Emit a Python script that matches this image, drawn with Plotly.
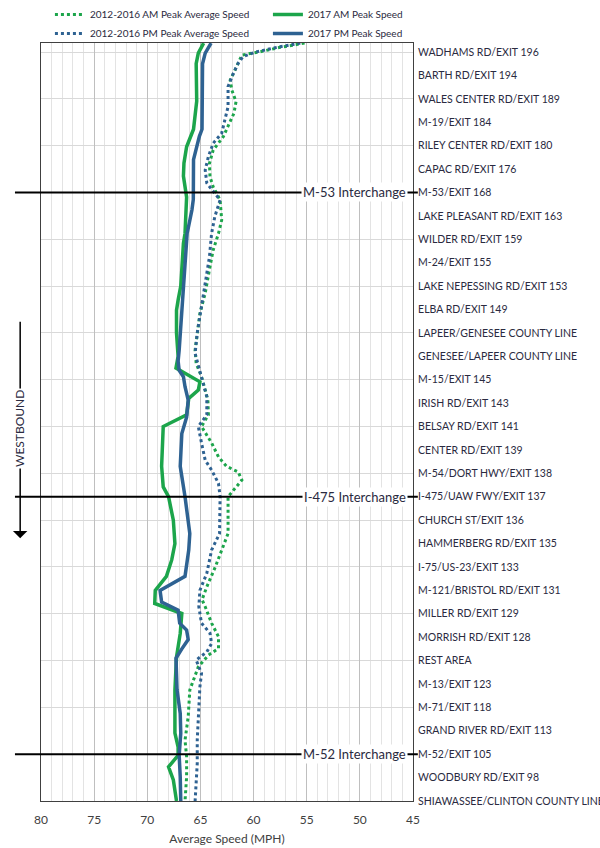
import plotly.graph_objects as go

# ---------------- DATA ----------------
exit_labels = [
    "WADHAMS RD/EXIT 196", "BARTH RD/EXIT 194", "WALES CENTER RD/EXIT 189",
    "M-19/EXIT 184", "RILEY CENTER RD/EXIT 180", "CAPAC RD/EXIT 176",
    "M-53/EXIT 168", "LAKE PLEASANT RD/EXIT 163", "WILDER RD/EXIT 159",
    "M-24/EXIT 155", "LAKE NEPESSING RD/EXIT 153", "ELBA RD/EXIT 149",
    "LAPEER/GENESEE COUNTY LINE", "GENESEE/LAPEER COUNTY LINE", "M-15/EXIT 145",
    "IRISH RD/EXIT 143", "BELSAY RD/EXIT 141", "CENTER RD/EXIT 139",
    "M-54/DORT HWY/EXIT 138", "I-475/UAW FWY/EXIT 137", "CHURCH ST/EXIT 136",
    "HAMMERBERG RD/EXIT 135", "I-75/US-23/EXIT 133", "M-121/BRISTOL RD/EXIT 131",
    "MILLER RD/EXIT 129", "MORRISH RD/EXIT 128", "REST AREA", "M-13/EXIT 123",
    "M-71/EXIT 118", "GRAND RIVER RD/EXIT 113", "M-52/EXIT 105",
    "WOODBURY RD/EXIT 98", "SHIAWASSEE/CLINTON COUNTY LINE",
]

interchange_names = ["M-53 Interchange", "I-475 Interchange", "M-52 Interchange"]
interchange_exits = ["M-53/EXIT 168", "I-475/UAW FWY/EXIT 137", "M-52/EXIT 105"]

x_ticks = [80, 75, 70, 65, 60, 55, 50, 45]

# 2012-2016 AM Peak Average Speed (position along corridor in exit-row units, speed mph)
am_avg_pos = [-0.38, -0.2, 0.0, 0.13, 0.63, 1.2, 1.62, 2.12, 2.62, 3.19, 3.62, 4.19,
              4.76, 5.33, 5.76, 6.32, 7.18, 7.75, 8.46, 9.17, 10.3, 11.17, 12.0,
              12.74, 13.3, 13.87, 14.44, 14.87, 15.5, 16.0, 16.7, 17.3, 17.7,
              17.94, 18.29, 18.64, 19.0, 20.57, 21.28, 22.0, 22.85, 23.4, 23.7,
              24.4, 24.98, 25.48, 25.77, 26.27, 27.26, 28.4, 29.4, 30.1, 30.97, 32.0]
am_avg_val = [55.2, 57.5, 59.5, 61.1, 61.6, 62.2, 62.05, 61.65, 61.85, 62.4, 62.85, 63.8,
              64.15, 64.1, 63.8, 63.15, 63.0, 63.3, 63.8, 64.1, 64.55, 65.05, 65.3,
              65.5, 65.4, 64.9, 64.55, 64.3, 64.25, 64.9, 63.95, 63.3, 62.55,
              61.45, 61.1, 61.75, 62.4, 62.4, 63.0, 63.6, 64.4, 64.85, 64.55,
              63.95, 63.3, 63.3, 64.25, 65.2, 66.0, 66.15, 66.45, 66.3, 66.3, 66.45]

# 2012-2016 PM Peak Average Speed
pm_avg_pos = [-0.38, -0.2, 0.0, 0.2, 0.48, 0.91, 1.48, 2.34, 2.9, 3.47, 3.9, 4.47,
              5.04, 5.6, 6.04, 6.32, 7.04, 7.75, 8.75, 9.88, 10.88, 12.0, 12.88,
              13.6, 14.15, 14.73, 15.5, 16.0, 16.7, 17.44, 17.86, 18.43, 19.0,
              20.57, 21.28, 22.27, 23.0, 23.7, 24.4, 24.83, 25.27, 25.63, 25.98,
              26.55, 27.12, 27.98, 29.4, 30.4, 32.0]
pm_avg_val = [55.6, 57.8, 59.8, 61.0, 61.45, 61.9, 62.4, 62.4, 62.7, 63.0, 63.8, 64.25,
              64.55, 64.4, 63.65, 63.15, 63.65, 63.95, 64.15, 64.55, 64.9, 65.3, 65.5,
              65.05, 64.75, 64.4, 64.4, 65.2, 64.9, 64.55, 63.95, 63.3, 63.15,
              63.2, 63.95, 64.4, 65.05, 65.15, 64.9, 64.1, 63.95, 64.4, 65.4,
              64.9, 65.05, 65.15, 65.3, 65.3, 65.5]

# 2017 AM Peak Speed
am_2017_pos = [-0.38, 0.05, 0.5, 1.5, 2.1, 3.3, 4.05, 4.75, 5.3, 6.2, 7.75, 8.18, 9.17,
               10.0, 10.6, 11.03, 12.0, 13.0, 13.5, 13.75, 14.09, 14.44, 14.8, 15.5,
               16.0, 17.7, 18.58, 19.0, 20.0, 21.0, 21.7, 22.4, 23.0, 23.56, 23.99,
               24.84, 25.84, 27.26, 29.1, 29.7, 30.05, 30.54, 31.1, 32.0]
am_2017_val = [64.7, 65.2, 65.4, 65.4, 65.35, 65.65, 66.3, 66.55, 66.6, 66.3, 66.45, 66.6,
               66.75, 66.85, 67.1, 67.25, 67.25, 67.1, 67.3, 66.3, 65.05, 65.2, 66.1,
               66.3, 68.5, 68.65, 68.5, 68.0, 67.55, 67.4, 67.7, 68.2, 69.25, 69.3,
               66.75, 66.9, 67.25, 67.4, 67.4, 67.1, 67.1, 68.0, 67.55, 67.25]

# 2017 PM Peak Speed
pm_2017_pos = [-0.38, 0.05, 0.5, 2.0, 3.3, 3.6, 4.0, 4.6, 6.3, 6.75, 7.75, 9.2, 10.6,
               12.0, 12.74, 13.2, 13.6, 13.87, 14.3, 14.87, 15.6, 16.3, 17.7, 19.0,
               20.57, 21.28, 22.4, 23.0, 23.5, 23.85, 24.4, 24.7, 25.1, 25.5, 25.9,
               27.26, 28.26, 29.1, 30.05, 30.97, 32.0]
pm_2017_val = [64.0, 64.55, 64.8, 64.8, 64.85, 65.1, 65.35, 65.65, 65.67, 65.8, 66.25,
               66.45, 66.7, 66.9, 67.0, 67.1, 67.0, 66.6, 66.45, 66.15, 66.3, 66.75,
               66.9, 66.45, 66.0, 66.1, 66.45, 68.8, 68.65, 67.1, 66.95, 66.3, 66.15,
               66.75, 67.3, 67.2, 66.9, 66.85, 67.0, 66.9, 66.85]

# ---------------- STYLE ----------------
GREEN = "#1CA54B"
BLUE = "#2E6292"
FONT = "Lato"
TXT = "#2a2a40"

fig = go.Figure()
fig.add_trace(go.Scatter(x=am_avg_val, y=am_avg_pos, mode="lines",
                         name="2012-2016 AM Peak Average Speed", legend="legend",
                         line=dict(color=GREEN, width=3, dash="3px,3px")))
fig.add_trace(go.Scatter(x=pm_avg_val, y=pm_avg_pos, mode="lines",
                         name="2012-2016 PM Peak Average Speed", legend="legend",
                         line=dict(color=BLUE, width=3, dash="3px,3px")))
fig.add_trace(go.Scatter(x=am_2017_val, y=am_2017_pos, mode="lines",
                         name="2017 AM Peak Speed", legend="legend2",
                         line=dict(color=GREEN, width=3.5)))
fig.add_trace(go.Scatter(x=pm_2017_val, y=pm_2017_pos, mode="lines",
                         name="2017 PM Peak Speed", legend="legend2",
                         line=dict(color=BLUE, width=3.5)))

n = len(exit_labels)

# interchange lines + labels
for name, ex in zip(interchange_names, interchange_exits):
    yv = exit_labels.index(ex)
    fig.add_shape(type="line", xref="paper", yref="y", x0=-0.07, x1=1.013,
                  y0=yv, y1=yv, line=dict(color="black", width=2), layer="above")
    fig.add_annotation(x=0.987, xref="paper", y=yv, yref="y", text=name,
                       showarrow=False, xanchor="right", yanchor="middle",
                       bgcolor="white", borderpad=1,
                       font=dict(family=FONT, size=13, color=TXT))

# Westbound arrow
fig.add_annotation(x=-0.056, xref="paper", y=20.77, yref="y", text="",
                   showarrow=True, ax=0, ay=-218, axref="pixel", ayref="pixel",
                   arrowhead=1, arrowsize=1.6, arrowwidth=1.5, arrowcolor="black")
fig.add_annotation(x=-0.056, xref="paper", y=16.1, yref="y", text="WESTBOUND",
                   textangle=-90, showarrow=False, bgcolor="white", borderpad=1,
                   xanchor="center", yanchor="middle",
                   font=dict(family=FONT, size=12, color=TXT))

legend_common = dict(orientation="v", xref="paper", yref="container",
                     y=1.0, yanchor="top", xanchor="left",
                     font=dict(family=FONT, size=10, color=TXT),
                     bgcolor="rgba(0,0,0,0)", itemwidth=30, tracegroupgap=0)

fig.update_layout(
    width=600, height=848,
    margin=dict(l=41, r=187, t=43, b=47, autoexpand=False),
    paper_bgcolor="white", plot_bgcolor="white",
    font=dict(family=FONT, size=11, color=TXT),
    showlegend=True,
    legend=dict(x=0.024, **legend_common),
    legend2=dict(x=0.61, **legend_common),
    xaxis=dict(range=[80, 45], tickvals=x_ticks, ticktext=[str(v) for v in x_ticks],
               showgrid=True, gridcolor="#BFBFBF", gridwidth=1,
               minor=dict(dtick=1, showgrid=True, gridcolor="#E3E3E3", gridwidth=1),
               showline=True, linecolor="#404040", linewidth=1, mirror=True,
               zeroline=False, ticks="", ticklabelstandoff=8,
               tickfont=dict(family=FONT, size=12, color="#404040"),
               title=dict(text="Average Speed (MPH)", standoff=8,
                          font=dict(family=FONT, size=12, color="#404040"))),
    yaxis=dict(range=[n - 1, -0.385], side="right",
               tickvals=list(range(n)), ticktext=exit_labels,
               showgrid=False, zeroline=False, ticks="",
               minor=dict(tickvals=list(range(0, n, 2)), showgrid=True,
                          gridcolor="#D9D9D9", gridwidth=1, ticks=""),
               showline=True, linecolor="#404040", linewidth=1, mirror=True,
               tickfont=dict(family=FONT, size=10.5, color=TXT),
               ticklabelstandoff=2),
)

fig.write_html("out.html", config={"displayModeBar": False},
               post_script="document.body.style.margin='0';document.body.style.overflow='hidden';")
